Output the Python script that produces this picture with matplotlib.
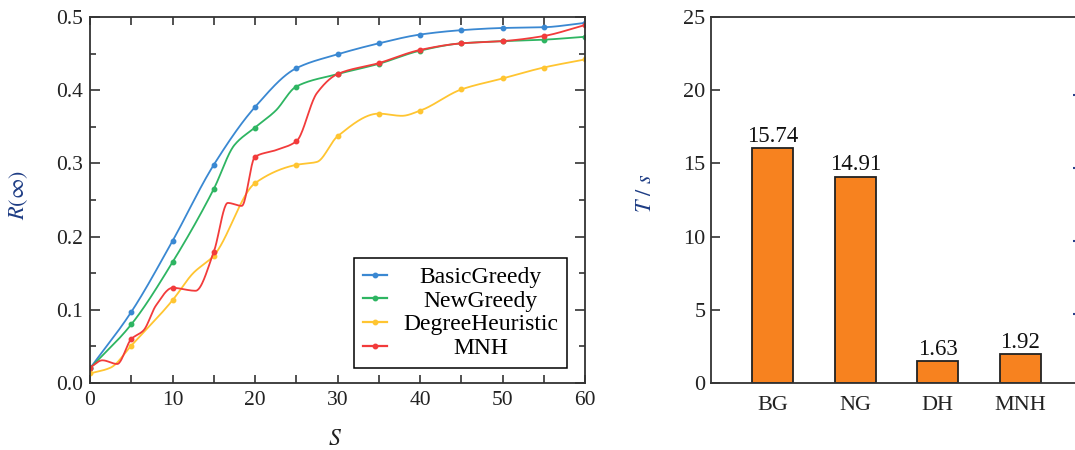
import numpy as np
import matplotlib
matplotlib.use("Agg")
import matplotlib.pyplot as plt
from matplotlib.lines import Line2D
from matplotlib.ticker import MultipleLocator

plt.rcParams['font.family'] = ['Liberation Serif', 'DejaVu Serif']
plt.rcParams['mathtext.fontset'] = 'stix'

# ---- left panel: R(inf) vs S (markers at every 5, extra points shape the curve) ----
basic_s = [0, 5, 10, 15, 20, 25, 30, 35, 40, 45, 50, 55, 60]
basic_r = [0.020, 0.097, 0.194, 0.298, 0.377, 0.430, 0.449, 0.464, 0.476, 0.482, 0.485, 0.486, 0.492]

newg_s = [0, 5, 10, 15, 17.5, 20, 22.5, 25, 30, 35, 40, 45, 50, 55, 60]
newg_r = [0.020, 0.080, 0.165, 0.265, 0.325, 0.349, 0.372, 0.405, 0.422, 0.436, 0.454, 0.464, 0.467, 0.469, 0.473]

degree_s = [0, 2.5, 5, 10, 12.5, 15, 20, 25, 27.5, 30, 35, 37.8, 40, 45, 50, 55, 60]
degree_r = [0.013, 0.021, 0.051, 0.113, 0.150, 0.174, 0.273, 0.298, 0.302, 0.337, 0.368, 0.365, 0.372, 0.401,
            0.416, 0.431, 0.442]

mnh_s = [0, 1.5, 3.3, 5, 6.5, 8, 10, 12.8, 15, 16.7, 18.4, 20, 22.5, 25, 27.5, 30, 35, 40, 45, 50, 55, 60]
mnh_r = [0.021, 0.031, 0.026, 0.060, 0.072, 0.106, 0.130, 0.126, 0.179, 0.246, 0.242, 0.309, 0.318, 0.330, 0.396,
         0.422, 0.437, 0.455, 0.464, 0.467, 0.474, 0.489]

series_names = ['BasicGreedy', 'NewGreedy', 'DegreeHeuristic', 'MNH']
series_colors = ['#3a88d2', '#2eb562', '#ffc531', '#f23b3b']

# ---- right panel: running time ----
methods = ['BG', 'NG', 'DH', 'MNH']
time_heights = [16.03, 14.09, 1.50, 1.98]
time_labels = ['15.74', '14.91', '1.63', '1.92']

LABEL_BLUE = '#1d3c84'


def smooth(x, y, n=800):
    """Monotone cubic (PCHIP) curve through the points - drawing style only."""
    x = np.asarray(x, float)
    y = np.asarray(y, float)
    k = len(x)
    h = np.diff(x)
    d = np.diff(y) / h
    m = np.zeros(k)
    m[0], m[-1] = d[0], d[-1]
    for i in range(1, k - 1):
        if d[i - 1] * d[i] > 0:
            w1 = 2 * h[i] + h[i - 1]
            w2 = h[i] + 2 * h[i - 1]
            m[i] = (w1 + w2) / (w1 / d[i - 1] + w2 / d[i])
    xs = np.linspace(x[0], x[-1], n)
    j = np.clip(np.searchsorted(x, xs) - 1, 0, k - 2)
    t = (xs - x[j]) / h[j]
    h00 = 2 * t ** 3 - 3 * t ** 2 + 1
    h10 = t ** 3 - 2 * t ** 2 + t
    h01 = -2 * t ** 3 + 3 * t ** 2
    h11 = t ** 3 - t ** 2
    ys = h00 * y[j] + h10 * h[j] * m[j] + h01 * y[j + 1] + h11 * h[j] * m[j + 1]
    return xs, ys


fig = plt.figure(figsize=(10.75, 4.5), dpi=100)
ax1 = fig.add_axes([90 / 1075, 67 / 450, 495 / 1075, 366 / 450])
ax2 = fig.add_axes([711 / 1075, 67 / 450, 366 / 1075, 366 / 450])

# left panel
handles = []
for s, r, name, c in zip([basic_s, newg_s, degree_s, mnh_s],
                         [basic_r, newg_r, degree_r, mnh_r],
                         series_names, series_colors):
    xs, ys = smooth(s, r)
    ax1.plot(xs, ys, color=c, lw=1.3)
    s = np.asarray(s)
    r = np.asarray(r)
    mask = (s % 5) == 0
    ax1.plot(s[mask], r[mask], 'o', color=c, ms=3.2)
    handles.append(Line2D([], [], color=c, lw=1.6, marker='o', ms=3.2, label=name))

ax1.set_xlim(0, 60)
ax1.set_ylim(0, 0.5)
ax1.xaxis.set_major_locator(MultipleLocator(10))
ax1.xaxis.set_minor_locator(MultipleLocator(5))
ax1.yaxis.set_major_locator(MultipleLocator(0.1))
ax1.yaxis.set_minor_locator(MultipleLocator(0.05))
ax1.tick_params(which='both', direction='in', top=True, right=True, width=1.2, color='#333333',
                labelsize=15.5, labelcolor='#222222')
ax1.tick_params(axis='x', which='both', length=5.5, pad=6)
ax1.tick_params(axis='y', which='major', length=7, pad=5)
ax1.tick_params(axis='y', which='minor', length=4.5)
for sp in ax1.spines.values():
    sp.set_linewidth(1.3)
    sp.set_color('#333333')

ax1.set_xlabel('$S$', fontsize=17, color='#222222')
ax1.xaxis.set_label_coords(0.495, -0.125)
ax1.set_ylabel(r'$R(\infty)$', fontsize=16, color=LABEL_BLUE)
ax1.yaxis.set_label_coords(-0.121, 0.514)

leg = ax1.legend(handles=handles, loc='lower right', bbox_to_anchor=(0.964, 0.041),
                 borderaxespad=0, fontsize=17, frameon=True, fancybox=False,
                 edgecolor='black', framealpha=1, handlelength=1.0, handletextpad=0.7,
                 labelspacing=0.09, borderpad=0.38)
leg.get_frame().set_linewidth(1.1)

# right panel
bars = ax2.bar(range(len(methods)), time_heights, width=0.5, color='#f7821f',
               edgecolor='#222222', linewidth=1.3)
ax2.bar_label(bars, labels=time_labels, fontsize=16.5, padding=1, color='#111111')
ax2.set_xlim(-0.75, 3.69)
ax2.set_ylim(0, 25)
ax2.set_xticks(range(len(methods)))
ax2.set_xticklabels(methods)
ax2.yaxis.set_major_locator(MultipleLocator(5))
ax2.tick_params(axis='y', direction='in', length=6.5, width=1.2, pad=4, labelsize=16,
                labelcolor='#222222', color='#333333')
ax2.tick_params(axis='x', length=0, pad=9, labelsize=16, labelcolor='#222222')
for sp in ax2.spines.values():
    sp.set_linewidth(1.3)
    sp.set_color('#333333')
ax2.set_ylabel('$T\\ /\\ s$', fontsize=16, color=LABEL_BLUE)
ax2.yaxis.set_label_coords(-0.150, 0.519)

# clipped secondary axis at the right edge (only its tick dots show)
ax3 = ax2.twinx()
ax3.set_ylim(0.3, 25.3)
ax3.set_yticks([5, 10, 15, 20])
for sp in ax3.spines.values():
    sp.set_visible(False)
ax3.spines['right'].set_position(('axes', 0.9918))
ax3.tick_params(axis='y', direction='inout', length=2, width=1.5, colors='#27408b', labelright=False)

# centre the legend texts like the original
fig.canvas.draw()
renderer = fig.canvas.get_renderer()
texts = leg.get_texts()
widths = [t.get_window_extent(renderer).width for t in texts]
wmax = max(widths)
for t, w in zip(texts, widths):
    t.set_position(((wmax - w) / 2, 0))

fig.savefig('out.png', dpi=100)
